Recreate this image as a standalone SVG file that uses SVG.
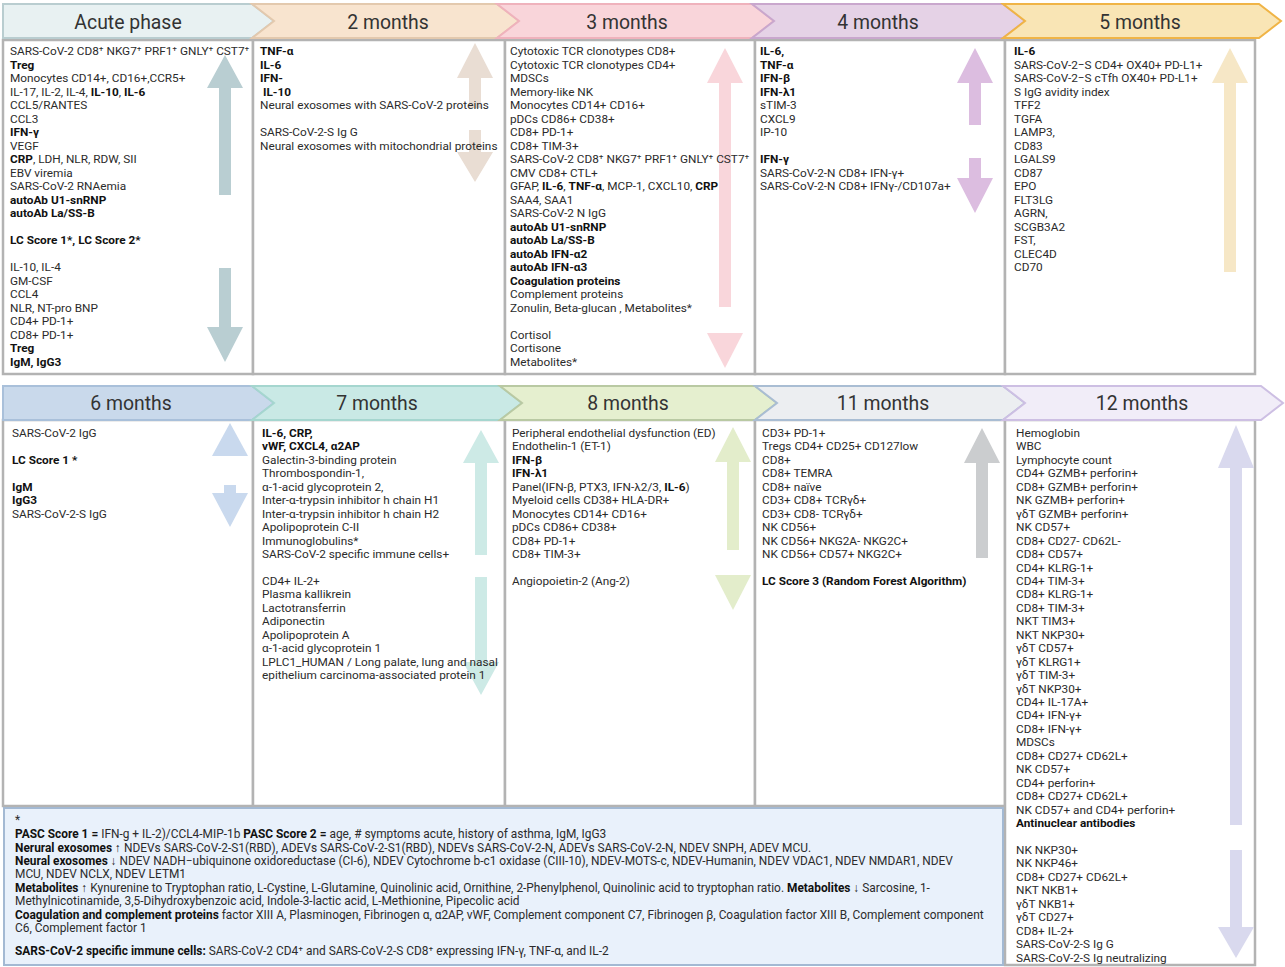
<svg xmlns="http://www.w3.org/2000/svg" width="1285" height="967" viewBox="0 0 1285 967">
<style>
.t{font-family:Roboto,"Liberation Sans",sans-serif;font-size:11.8px;fill:#2b2b2b}
.f{font-size:11.9px}
.b{font-weight:bold;fill:#111}
.h{font-family:Roboto,"Liberation Sans",sans-serif;font-size:19.4px;fill:#333;text-anchor:middle}
.box{fill:#fff;stroke:#b3b3b3;stroke-width:2.5}
.hd{stroke-width:2}
</style>
<rect width="1285" height="967" fill="#fff"/>

<!-- content boxes -->
<g id="boxes">
<rect class="box" x="3" y="40" width="250" height="334"/>
<rect class="box" x="253" y="40" width="252" height="334"/>
<rect class="box" x="505" y="40" width="250" height="334"/>
<rect class="box" x="755" y="40" width="250" height="334"/>
<rect class="box" x="1005" y="40" width="250" height="334"/>
<rect class="box" x="3" y="420" width="250" height="386"/>
<rect class="box" x="253" y="420" width="252" height="386"/>
<rect class="box" x="505" y="420" width="250" height="386"/>
<rect class="box" x="755" y="420" width="250" height="386"/>
<rect class="box" x="1005" y="420" width="250" height="545"/>
</g>

<!-- headers -->
<g id="headers">
<polygon class="hd" points="3,4 252,4 274,21 252,38 3,38" fill="#e8f1f2" stroke="#b9cdd0"/>
<polygon class="hd" points="252,4 497,4 519,21 497,38 252,38 274,21" fill="#f8e4cf" stroke="#e3c9ae"/>
<polygon class="hd" points="497,4 752,4 774,21 752,38 497,38 519,21" fill="#f9d5da" stroke="#efb2bc"/>
<polygon class="hd" points="752,4 1003,4 1025,21 1003,38 752,38 774,21" fill="#e5d2e6" stroke="#c9a7cd"/>
<polygon class="hd" points="1003,4 1259,4 1281,21 1259,38 1003,38 1025,21" fill="#f9e5b5" stroke="#f0b446"/>
<polygon class="hd" points="3,386 252,386 274,403 252,420 3,420" fill="#c9d9eb" stroke="#a9c0da"/>
<polygon class="hd" points="252,386 500,386 522,403 500,420 252,420 274,403" fill="#c9e9e5" stroke="#a5d6cf"/>
<polygon class="hd" points="500,386 755,386 777,403 755,420 500,420 522,403" fill="#e5efcf" stroke="#b9c9a3"/>
<polygon class="hd" points="755,386 1003,386 1025,403 1003,420 755,420 777,403" fill="#eceef1" stroke="#a9bdd3"/>
<polygon class="hd" points="1003,386 1261,386 1283,403 1261,420 1003,420 1025,403" fill="#f1edf8" stroke="#cdbfe3"/>
</g>

<!-- trend arrows -->
<g id="connectors">
<path fill="#b9ced2" d="M225,55 L243,88 L231,88 L231,195 L219,195 L219,88 L207,88 Z"/>
<path fill="#b9ced2" d="M225,362 L243,327 L231,327 L231,268 L219,268 L219,327 L207,327 Z"/>
<path fill="#e9ddd3" d="M475,43 L493,78 L481,78 L481,108 L469,108 L469,78 L457,78 Z"/>
<path fill="#e9ddd3" d="M475,182 L493,152 L481,152 L481,130 L469,130 L469,152 L457,152 Z"/>
<path fill="#f9d6db" d="M725,48 L743,83 L731,83 L731,307 L719,307 L719,83 L707,83 Z"/>
<path fill="#f9d6db" d="M725,368 L743,333 L707,333 Z"/>
<path fill="#dcbde0" d="M975,48 L993,83 L981,83 L981,125 L969,125 L969,83 L957,83 Z"/>
<path fill="#dcbde0" d="M975,213 L993,178 L981,178 L981,158 L969,158 L969,178 L957,178 Z"/>
<path fill="#f6e7c6" d="M1230,48 L1248,83 L1236,83 L1236,272 L1224,272 L1224,83 L1212,83 Z"/>
<path fill="#c9d9ee" d="M230,423 L248,456 L212,456 Z"/>
<path fill="#c9d9ee" d="M230,527 L248,493 L236,493 L236,485 L224,485 L224,493 L212,493 Z"/>
<path fill="#cdeae6" d="M481,430 L499,463 L487,463 L487,555 L475,555 L475,463 L463,463 Z"/>
<path fill="#cdeae6" d="M481,695 L499,662 L487,662 L487,577 L475,577 L475,662 L463,662 Z"/>
<path fill="#e3edcb" d="M733,427 L751,462 L739,462 L739,550 L727,550 L727,462 L715,462 Z"/>
<path fill="#e3edcb" d="M733,610 L751,575 L715,575 Z"/>
<path fill="#cbcdcf" d="M982,428 L1000,463 L988,463 L988,558 L976,558 L976,463 L964,463 Z"/>
<path fill="#d9d9ee" d="M1236,425 L1254,468 L1242,468 L1242,825 L1230,825 L1230,468 L1218,468 Z"/>
<path fill="#d9d9ee" d="M1236,958 L1254,927 L1242,927 L1242,850 L1230,850 L1230,927 L1218,927 Z"/>
</g>

<!-- header labels -->
<g id="header-labels">
<text class="h" x="128" y="29">Acute phase</text>
<text class="h" x="388" y="29">2 months</text>
<text class="h" x="627" y="29">3 months</text>
<text class="h" x="878" y="29">4 months</text>
<text class="h" x="1140" y="29">5 months</text>
<text class="h" x="131" y="410">6 months</text>
<text class="h" x="377" y="410">7 months</text>
<text class="h" x="628" y="410">8 months</text>
<text class="h" x="883" y="410">11 months</text>
<text class="h" x="1142" y="410">12 months</text>
</g>

<g id="acute-phase">
<text class="t" y="55">
<tspan x="10">SARS-CoV-2 CD8⁺ NKG7⁺ PRF1⁺ GNLY⁺ CST7⁺</tspan>
<tspan x="10" dy="13.5" class="b">Treg</tspan>
<tspan x="10" dy="13.5">Monocytes CD14+, CD16+,CCR5+</tspan>
<tspan x="10" dy="13.5">IL-17, IL-2, IL-4, <tspan class="b">IL-10</tspan>, <tspan class="b">IL-6</tspan></tspan>
<tspan x="10" dy="13.5">CCL5/RANTES</tspan>
<tspan x="10" dy="13.5">CCL3</tspan>
<tspan x="10" dy="13.5" class="b">IFN-γ</tspan>
<tspan x="10" dy="13.5">VEGF</tspan>
<tspan x="10" dy="13.5"><tspan class="b">CRP</tspan>, LDH, NLR, RDW, SII</tspan>
<tspan x="10" dy="13.5">EBV viremia</tspan>
<tspan x="10" dy="13.5">SARS-CoV-2 RNAemia</tspan>
<tspan x="10" dy="13.5" class="b">autoAb U1-snRNP</tspan>
<tspan x="10" dy="13.5" class="b">autoAb La/SS-B</tspan>
<tspan x="10" dy="27" class="b">LC Score 1*, LC Score 2*</tspan>
<tspan x="10" dy="27">IL-10, IL-4</tspan>
<tspan x="10" dy="13.5">GM-CSF</tspan>
<tspan x="10" dy="13.5">CCL4</tspan>
<tspan x="10" dy="13.5">NLR, NT-pro BNP</tspan>
<tspan x="10" dy="13.5">CD4+ PD-1+</tspan>
<tspan x="10" dy="13.5">CD8+ PD-1+</tspan>
<tspan x="10" dy="13.5" class="b">Treg</tspan>
<tspan x="10" dy="13.5" class="b">IgM, IgG3</tspan>
</text>
</g>

<g id="month-2">
<text class="t" y="55">
<tspan x="260" class="b">TNF-α</tspan>
<tspan x="260" dy="13.5" class="b">IL-6</tspan>
<tspan x="260" dy="13.5" class="b">IFN-</tspan>
<tspan x="263" dy="13.5" class="b">IL-10</tspan>
<tspan x="260" dy="13.5">Neural exosomes with SARS-CoV-2 proteins</tspan>
<tspan x="260" dy="27">SARS-CoV-2-S Ig G</tspan>
<tspan x="260" dy="13.5">Neural exosomes with mitochondrial proteins</tspan>
</text>
</g>

<g id="month-3">
<text class="t" y="55">
<tspan x="510">Cytotoxic TCR clonotypes CD8+</tspan>
<tspan x="510" dy="13.5">Cytotoxic TCR clonotypes CD4+</tspan>
<tspan x="510" dy="13.5">MDSCs</tspan>
<tspan x="510" dy="13.5">Memory-like NK</tspan>
<tspan x="510" dy="13.5">Monocytes CD14+ CD16+</tspan>
<tspan x="510" dy="13.5">pDCs CD86+ CD38+</tspan>
<tspan x="510" dy="13.5">CD8+ PD-1+</tspan>
<tspan x="510" dy="13.5">CD8+ TIM-3+</tspan>
<tspan x="510" dy="13.5">SARS-CoV-2 CD8⁺ NKG7⁺ PRF1⁺ GNLY⁺ CST7⁺</tspan>
<tspan x="510" dy="13.5">CMV CD8+ CTL+</tspan>
<tspan x="510" dy="13.5">GFAP, <tspan class="b">IL-6</tspan>, <tspan class="b">TNF-α</tspan>, MCP-1, CXCL10, <tspan class="b">CRP</tspan></tspan>
<tspan x="510" dy="13.5">SAA4, SAA1</tspan>
<tspan x="510" dy="13.5">SARS-CoV-2 N IgG</tspan>
<tspan x="510" dy="13.5" class="b">autoAb U1-snRNP</tspan>
<tspan x="510" dy="13.5" class="b">autoAb La/SS-B</tspan>
<tspan x="510" dy="13.5" class="b">autoAb IFN-α2</tspan>
<tspan x="510" dy="13.5" class="b">autoAb IFN-α3</tspan>
<tspan x="510" dy="13.5" class="b">Coagulation proteins</tspan>
<tspan x="510" dy="13.5">Complement proteins</tspan>
<tspan x="510" dy="13.5">Zonulin, Beta-glucan , Metabolites*</tspan>
<tspan x="510" dy="27">Cortisol</tspan>
<tspan x="510" dy="13.5">Cortisone</tspan>
<tspan x="510" dy="13.5">Metabolites*</tspan>
</text>
</g>

<g id="month-4">
<text class="t" y="55">
<tspan x="760" class="b">IL-6,</tspan>
<tspan x="760" dy="13.5" class="b">TNF-α</tspan>
<tspan x="760" dy="13.5" class="b">IFN-β</tspan>
<tspan x="760" dy="13.5" class="b">IFN-λ1</tspan>
<tspan x="760" dy="13.5">sTIM-3</tspan>
<tspan x="760" dy="13.5">CXCL9</tspan>
<tspan x="760" dy="13.5">IP-10</tspan>
<tspan x="760" dy="27" class="b">IFN-γ</tspan>
<tspan x="760" dy="13.5">SARS-CoV-2-N CD8+ IFN-γ+</tspan>
<tspan x="760" dy="13.5">SARS-CoV-2-N CD8+ IFNγ-/CD107a+</tspan>
</text>
</g>

<g id="month-5">
<text class="t" y="55">
<tspan x="1014" class="b">IL-6</tspan>
<tspan x="1014" dy="13.5">SARS-CoV-2−S CD4+ OX40+ PD-L1+</tspan>
<tspan x="1014" dy="13.5">SARS-CoV-2−S cTfh OX40+ PD-L1+</tspan>
<tspan x="1014" dy="13.5">S IgG avidity index</tspan>
<tspan x="1014" dy="13.5">TFF2</tspan>
<tspan x="1014" dy="13.5">TGFA</tspan>
<tspan x="1014" dy="13.5">LAMP3,</tspan>
<tspan x="1014" dy="13.5">CD83</tspan>
<tspan x="1014" dy="13.5">LGALS9</tspan>
<tspan x="1014" dy="13.5">CD87</tspan>
<tspan x="1014" dy="13.5">EPO</tspan>
<tspan x="1014" dy="13.5">FLT3LG</tspan>
<tspan x="1014" dy="13.5">AGRN,</tspan>
<tspan x="1014" dy="13.5">SCGB3A2</tspan>
<tspan x="1014" dy="13.5">FST,</tspan>
<tspan x="1014" dy="13.5">CLEC4D</tspan>
<tspan x="1014" dy="13.5">CD70</tspan>
</text>
</g>

<g id="month-6">
<text class="t" y="437">
<tspan x="12">SARS-CoV-2 IgG</tspan>
<tspan x="12" dy="27" class="b">LC Score 1 *</tspan>
<tspan x="12" dy="27" class="b">IgM</tspan>
<tspan x="12" dy="13.45" class="b">IgG3</tspan>
<tspan x="12" dy="13.45">SARS-CoV-2-S IgG</tspan>
</text>
</g>

<g id="month-7">
<text class="t" y="437">
<tspan x="262" class="b">IL-6, CRP,</tspan>
<tspan x="262" dy="13.45" class="b">vWF, CXCL4, α2AP</tspan>
<tspan x="262" dy="13.45">Galectin-3-binding protein</tspan>
<tspan x="262" dy="13.45">Thrombospondin-1,</tspan>
<tspan x="262" dy="13.45">α-1-acid glycoprotein 2,</tspan>
<tspan x="262" dy="13.45">Inter-α-trypsin inhibitor h chain H1</tspan>
<tspan x="262" dy="13.45">Inter-α-trypsin inhibitor h chain H2</tspan>
<tspan x="262" dy="13.45">Apolipoprotein C-II</tspan>
<tspan x="262" dy="13.45">Immunoglobulins*</tspan>
<tspan x="262" dy="13.45">SARS-CoV-2 specific immune cells+</tspan>
<tspan x="262" dy="26.9">CD4+ IL-2+</tspan>
<tspan x="262" dy="13.45">Plasma kallikrein</tspan>
<tspan x="262" dy="13.45">Lactotransferrin</tspan>
<tspan x="262" dy="13.45">Adiponectin</tspan>
<tspan x="262" dy="13.45">Apolipoprotein A</tspan>
<tspan x="262" dy="13.45">α-1-acid glycoprotein 1</tspan>
<tspan x="262" dy="13.45">LPLC1_HUMAN / Long palate, lung and nasal</tspan>
<tspan x="262" dy="13.45">epithelium carcinoma-associated protein 1</tspan>
</text>
</g>

<g id="month-8">
<text class="t" y="437">
<tspan x="512">Peripheral endothelial dysfunction (ED)</tspan>
<tspan x="512" dy="13.45">Endothelin-1 (ET-1)</tspan>
<tspan x="512" dy="13.45" class="b">IFN-β</tspan>
<tspan x="512" dy="13.45" class="b">IFN-λ1</tspan>
<tspan x="512" dy="13.45">Panel(IFN-β, PTX3, IFN-λ2/3, <tspan class="b">IL-6</tspan>)</tspan>
<tspan x="512" dy="13.45">Myeloid cells CD38+ HLA-DR+</tspan>
<tspan x="512" dy="13.45">Monocytes CD14+ CD16+</tspan>
<tspan x="512" dy="13.45">pDCs CD86+ CD38+</tspan>
<tspan x="512" dy="13.45">CD8+ PD-1+</tspan>
<tspan x="512" dy="13.45">CD8+ TIM-3+</tspan>
<tspan x="512" dy="26.9">Angiopoietin-2 (Ang-2)</tspan>
</text>
</g>

<g id="month-11">
<text class="t" y="437">
<tspan x="762">CD3+ PD-1+</tspan>
<tspan x="762" dy="13.45">Tregs CD4+ CD25+ CD127low</tspan>
<tspan x="762" dy="13.45">CD8+</tspan>
<tspan x="762" dy="13.45">CD8+ TEMRA</tspan>
<tspan x="762" dy="13.45">CD8+ naïve</tspan>
<tspan x="762" dy="13.45">CD3+ CD8+ TCRγδ+</tspan>
<tspan x="762" dy="13.45">CD3+ CD8- TCRγδ+</tspan>
<tspan x="762" dy="13.45">NK CD56+</tspan>
<tspan x="762" dy="13.45">NK CD56+ NKG2A- NKG2C+</tspan>
<tspan x="762" dy="13.45">NK CD56+ CD57+ NKG2C+</tspan>
<tspan x="762" dy="26.9" class="b">LC Score 3 (Random Forest Algorithm)</tspan>
</text>
</g>

<g id="month-12">
<text class="t" y="437">
<tspan x="1016">Hemoglobin</tspan>
<tspan x="1016" dy="13.45">WBC</tspan>
<tspan x="1016" dy="13.45">Lymphocyte count</tspan>
<tspan x="1016" dy="13.45">CD4+ GZMB+ perforin+</tspan>
<tspan x="1016" dy="13.45">CD8+ GZMB+ perforin+</tspan>
<tspan x="1016" dy="13.45">NK GZMB+ perforin+</tspan>
<tspan x="1016" dy="13.45">γδT GZMB+ perforin+</tspan>
<tspan x="1016" dy="13.45">NK CD57+</tspan>
<tspan x="1016" dy="13.45">CD8+ CD27- CD62L-</tspan>
<tspan x="1016" dy="13.45">CD8+ CD57+</tspan>
<tspan x="1016" dy="13.45">CD4+ KLRG-1+</tspan>
<tspan x="1016" dy="13.45">CD4+ TIM-3+</tspan>
<tspan x="1016" dy="13.45">CD8+ KLRG-1+</tspan>
<tspan x="1016" dy="13.45">CD8+ TIM-3+</tspan>
<tspan x="1016" dy="13.45">NKT TIM3+</tspan>
<tspan x="1016" dy="13.45">NKT NKP30+</tspan>
<tspan x="1016" dy="13.45">γδT CD57+</tspan>
<tspan x="1016" dy="13.45">γδT KLRG1+</tspan>
<tspan x="1016" dy="13.45">γδT TIM-3+</tspan>
<tspan x="1016" dy="13.45">γδT NKP30+</tspan>
<tspan x="1016" dy="13.45">CD4+ IL-17A+</tspan>
<tspan x="1016" dy="13.45">CD4+ IFN-γ+</tspan>
<tspan x="1016" dy="13.45">CD8+ IFN-γ+</tspan>
<tspan x="1016" dy="13.45">MDSCs</tspan>
<tspan x="1016" dy="13.45">CD8+ CD27+ CD62L+</tspan>
<tspan x="1016" dy="13.45">NK CD57+</tspan>
<tspan x="1016" dy="13.45">CD4+ perforin+</tspan>
<tspan x="1016" dy="13.45">CD8+ CD27+ CD62L+</tspan>
<tspan x="1016" dy="13.45">NK CD57+ and CD4+ perforin+</tspan>
<tspan x="1016" dy="13.45" class="b">Antinuclear antibodies</tspan>
<tspan x="1016" dy="26.9">NK NKP30+</tspan>
<tspan x="1016" dy="13.45">NK NKP46+</tspan>
<tspan x="1016" dy="13.45">CD8+ CD27+ CD62L+</tspan>
<tspan x="1016" dy="13.45">NKT NKB1+</tspan>
<tspan x="1016" dy="13.45">γδT NKB1+</tspan>
<tspan x="1016" dy="13.45">γδT CD27+</tspan>
<tspan x="1016" dy="13.45">CD8+ IL-2+</tspan>
<tspan x="1016" dy="13.45">SARS-CoV-2-S Ig G</tspan>
<tspan x="1016" dy="13.45">SARS-CoV-2-S Ig neutralizing</tspan>
</text>
</g>

<g id="footnote">
<rect x="4" y="808" width="999" height="157" fill="#e9f1fb" stroke="#a3b9d3" stroke-width="2"/>
<text class="t f" x="15" y="824">*</text>
<text class="t f" x="15" y="838"><tspan class="b">PASC Score 1 =</tspan> IFN-g + IL-2)/CCL4-MIP-1b <tspan class="b">PASC Score 2 =</tspan> age, # symptoms acute, history of asthma, IgM, IgG3</text>
<text class="t f" x="15" y="852"><tspan class="b">Nerural exosomes</tspan> ↑ NDEVs SARS-CoV-2-S1(RBD), ADEVs SARS-CoV-2-S1(RBD), NDEVs SARS-CoV-2-N, ADEVs SARS-CoV-2-N, NDEV SNPH, ADEV MCU.</text>
<text class="t f" x="15" y="865"><tspan class="b">Neural exosomes</tspan> ↓ NDEV NADH−ubiquinone oxidoreductase (CI-6), NDEV Cytochrome b-c1 oxidase (CIII-10), NDEV-MOTS-c, NDEV-Humanin, NDEV VDAC1,  NDEV NMDAR1, NDEV</text>
<text class="t f" x="15" y="878">MCU, NDEV NCLX, NDEV LETM1</text>
<text class="t f" x="15" y="892"><tspan class="b">Metabolites</tspan> ↑ Kynurenine to Tryptophan ratio, L-Cystine, L-Glutamine, Quinolinic acid, Ornithine, 2-Phenylphenol, Quinolinic acid to tryptophan ratio. <tspan class="b">Metabolites</tspan> ↓ Sarcosine, 1-</text>
<text class="t f" x="15" y="905">Methylnicotinamide, 3,5-Dihydroxybenzoic acid, Indole-3-lactic acid, L-Methionine, Pipecolic acid</text>
<text class="t f" x="15" y="919"><tspan class="b">Coagulation and complement proteins</tspan> factor XIII A, Plasminogen, Fibrinogen α, α2AP, vWF, Complement component C7, Fibrinogen β, Coagulation factor XIII B, Complement component</text>
<text class="t f" x="15" y="932">C6, Complement factor 1</text>
<text class="t f" x="15" y="955"><tspan class="b">SARS-CoV-2 specific immune cells:</tspan> SARS-CoV-2 CD4⁺ and SARS-CoV-2-S CD8⁺ expressing IFN-γ, TNF-α, and IL-2</text>
</g>
</svg>
